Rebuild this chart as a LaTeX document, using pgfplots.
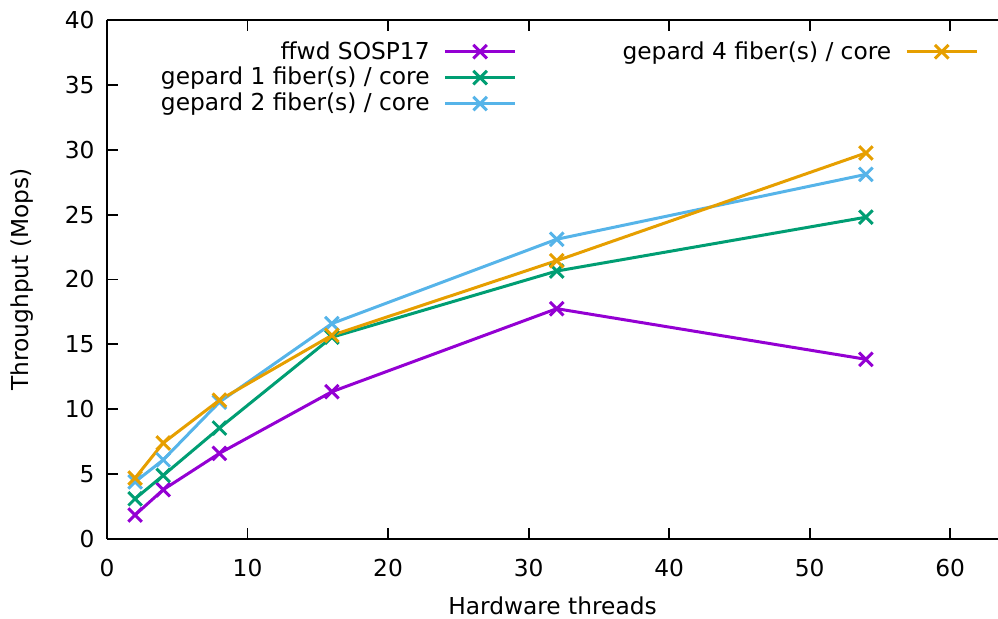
\documentclass[border=0pt]{standalone}
\usepackage{fontspec}
\setmainfont{DejaVu Sans}
\usepackage{pgfplots}
\pgfplotsset{compat=1.18}

\definecolor{gpPurple}{HTML}{9400D3}
\definecolor{gpGreen}{HTML}{009E73}
\definecolor{gpBlue}{HTML}{56B4E9}
\definecolor{gpOrange}{HTML}{E69F00}

\pgfplotsset{
  gpline/.style={line width=1.5pt, mark=x, mark size=4.8pt,
    mark options={solid, line width=1.5pt}},
}

\begin{document}
\begin{tikzpicture}[font=\fontsize{11.65}{13.9}\selectfont]
\begin{axis}[
    name=ax,
    scale only axis,
    width=445.5pt, height=259.5pt,
    xmin=0, xmax=63.4,
    ymin=0, ymax=40,
    xtick={0,10,...,60},
    ytick={0,5,...,40},
    axis x line*=box,
    axis y line*=left,
    y axis line style={-},
    x axis line style={-},
    axis line style={line width=1pt},
    major tick length=5.5pt,
    tick style={line width=0.9pt, black},
    xtick pos=both,
    /pgf/number format/assume math mode=true,
    xlabel={Hardware threads},
    ylabel={Throughput (Mops)},
    xlabel style={at={(axis description cs:0.5,-0.129)}, anchor=center},
    ylabel style={at={(axis description cs:-0.0954,0.5)}, anchor=center},
    xticklabel style={yshift=-6.5pt},
    yticklabel style={xshift=-2.7pt},
    legend plot pos=right,
    legend columns=2,
    legend cell align=right,
    legend style={draw=none, fill=none, at={(rel axis cs:0.985,0.975)},
      anchor=north east, row sep=-1.4pt,
      /tikz/every odd column/.append style={column sep=5pt},
      /tikz/every even column/.append style={column sep=51pt}},
    legend image code/.code={
      \draw[mark repeat=2, mark phase=2, #1]
        plot coordinates {(0pt,0pt) (17.5pt,0pt) (35pt,0pt)};},
]
\addplot[gpline, color=gpPurple, forget plot] coordinates {
  (2,1.85) (4,3.8) (8,6.6) (16,11.35) (32,17.75) (54,13.85)};
\addplot[gpline, color=gpGreen, forget plot] coordinates {
  (2,3.1) (4,4.9) (8,8.55) (16,15.55) (32,20.65) (54,24.8)};
\addplot[gpline, color=gpBlue, forget plot] coordinates {
  (2,4.4) (4,6.1) (8,10.55) (16,16.6) (32,23.1) (54,28.1)};
\addplot[gpline, color=gpOrange, forget plot] coordinates {
  (2,4.7) (4,7.4) (8,10.7) (16,15.7) (32,21.45) (54,29.75)};

\addlegendimage{gpline, color=gpPurple}
\addlegendentry{ffwd SOSP17}
\addlegendimage{gpline, color=gpOrange}
\addlegendentry{gepard 4 fiber(s) / core}
\addlegendimage{gpline, color=gpGreen}
\addlegendentry{gepard 1 fiber(s) / core}
\addlegendimage{empty legend}
\addlegendentry{}
\addlegendimage{gpline, color=gpBlue}
\addlegendentry{gepard 2 fiber(s) / core}
\end{axis}
\pgfresetboundingbox
\path[use as bounding box] ([shift={(-53.5pt,-40pt)}]ax.south west)
  rectangle ([shift={(0pt,10pt)}]ax.north east);
\end{tikzpicture}
\end{document}
